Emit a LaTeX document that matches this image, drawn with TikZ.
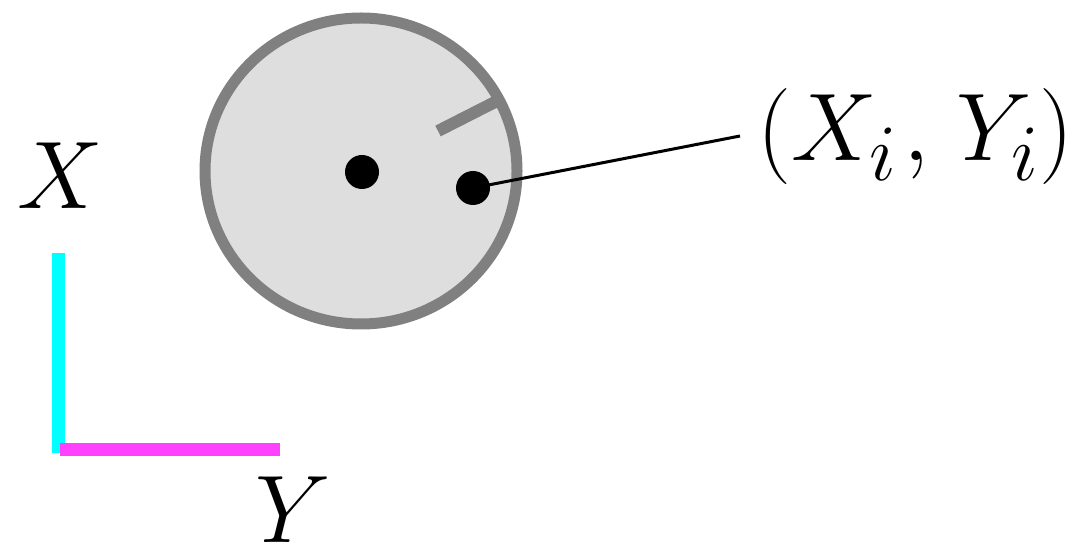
\documentclass[tikz,border=0pt]{standalone}
\begin{document}
\begin{tikzpicture}[x=0.5pt,y=-0.5pt,
  bigfont/.style={font=\fontsize{24.88}{30}\selectfont, inner sep=0pt, scale=1.93, transform shape},
  dotnode/.style={circle, fill=black, inner sep=0pt, minimum size=17pt}]
\useasboundingbox (0,0) rectangle (1075,550);
\definecolor{ringgray}{HTML}{808080}
\definecolor{diskfill}{HTML}{DEDEDE}
\definecolor{axcyan}{HTML}{00FFFF}
\definecolor{axmag}{HTML}{FF40FF}
% disk
\draw[ringgray, fill=diskfill, line width=5.5pt] (361,171) ellipse [x radius=156, y radius=153];
\draw[ringgray, line width=6pt] (438,131) -- (499,100);
\node[dotnode] (c) at (362,172) {};
\node[dotnode] (p) at (473,188) {};
% label
\node[bigfont, anchor=base west] (lab) at (757,161) {$(X_i\mkern1mu,\mkern2mu Y_i)$};
\coordinate (le) at (740,136);
\draw[black, line width=1.5pt] (p.center) -- (le);
% axes
\coordinate (o) at (58.5,453);
\coordinate (xt) at (58.5,253);
\coordinate (ys) at (60,449.5);
\coordinate (ye) at (280,449.5);
\draw[axcyan, line width=6.5pt] (o) -- (xt);
\draw[axmag, line width=6.5pt] (ys) -- (ye);
\node[bigfont, anchor=base] (xl) at (60,209) {$X$};
\node[bigfont, anchor=base] (yl) at (293,542) {$Y$};
\end{tikzpicture}
\end{document}
